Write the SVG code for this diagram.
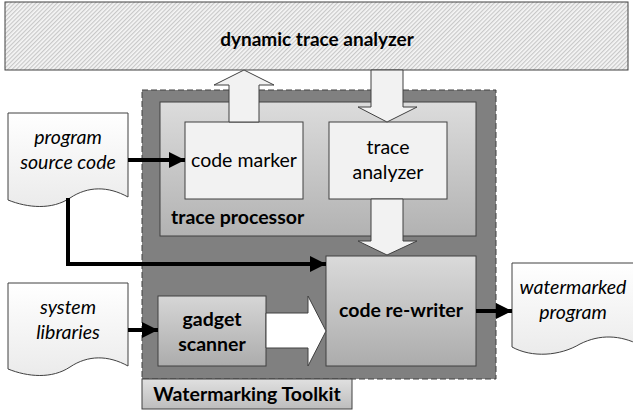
<svg xmlns="http://www.w3.org/2000/svg" width="633" height="410" viewBox="0 0 633 410">
<style>
text{font-family:Lato,"Open Sans","Liberation Sans",sans-serif;fill:#000;text-anchor:middle;font-size:19.5px}
.b{font-weight:bold}
.i{font-style:italic}
.box{stroke:#404040;stroke-width:1}
.blk{fill:#f2f2f2;stroke:#404040;stroke-width:1}
.con{fill:none;stroke:#000;stroke-width:4}
</style>
<defs>
<pattern id="hatch" width="3" height="3" patternUnits="userSpaceOnUse" patternTransform="rotate(45)">
<rect width="3" height="3" fill="#f6f6f6"/>
<rect width="1.2" height="3" fill="#c8c8c8"/>
</pattern>
<linearGradient id="gTP" x1="0" y1="0" x2="0" y2="1"><stop offset="0" stop-color="#dcdcdc"/><stop offset="1" stop-color="#b2b2b2"/></linearGradient>
<linearGradient id="gCR" x1="0" y1="0" x2="0" y2="1"><stop offset="0" stop-color="#dadada"/><stop offset="1" stop-color="#acacac"/></linearGradient>
<linearGradient id="gGS" x1="0" y1="0" x2="0" y2="1"><stop offset="0" stop-color="#d6d6d6"/><stop offset="1" stop-color="#acacac"/></linearGradient>
<linearGradient id="gWT" x1="0" y1="0" x2="0" y2="1"><stop offset="0" stop-color="#e0e0e0"/><stop offset="1" stop-color="#bdbdbd"/></linearGradient>
<linearGradient id="gDoc" x1="0" y1="0" x2="0" y2="1"><stop offset="0" stop-color="#ffffff"/><stop offset="1" stop-color="#ebebeb"/></linearGradient>
<marker id="ah" markerWidth="4" markerHeight="4" refX="4" refY="2" orient="auto" markerUnits="strokeWidth"><path d="M0,0 L4,2 L0,4 Z" fill="#000"/></marker>
</defs>

<g id="dynamic-trace-analyzer">
<rect x="5" y="2" width="623" height="68" fill="url(#hatch)" class="box"/>
<text x="317" y="46" class="b" style="font-size:19px">dynamic trace analyzer</text>
</g>

<g id="watermarking-toolkit">
<rect x="142" y="90" width="354" height="289" fill="#808080" stroke="#404040" stroke-width="1" stroke-dasharray="6,3"/>
<rect x="142" y="379" width="210" height="30" fill="url(#gWT)" class="box"/>
<text x="247" y="401" class="b">Watermarking Toolkit</text>
</g>

<g id="trace-processor">
<rect x="160" y="102" width="316" height="134" fill="url(#gTP)" class="box"/>
<text x="171" y="224" class="b" style="text-anchor:start">trace processor</text>
</g>

<g id="code-marker">
<rect x="185" y="122" width="118" height="77" fill="#f2f2f2" class="box"/>
<text x="244" y="167">code marker</text>
</g>

<g id="trace-analyzer">
<rect x="329" y="122" width="118" height="77" fill="#f2f2f2" class="box"/>
<text x="388" y="154">trace</text>
<text x="388" y="179">analyzer</text>
</g>

<g id="code-re-writer">
<rect x="326" y="256" width="150" height="110" fill="url(#gCR)" class="box"/>
<text x="401" y="317" class="b">code re-writer</text>
</g>

<g id="gadget-scanner">
<rect x="158" y="296" width="108" height="70" fill="url(#gGS)" class="box"/>
<text x="212" y="326" class="b">gadget</text>
<text x="212" y="351" class="b">scanner</text>
</g>

<g id="program-source-code">
<path d="M8,113 H128 V197 C108,186 88,186 70,198 C52,210 28,208 8,200 Z" fill="url(#gDoc)" class="box"/>
<text x="68" y="144" class="i">program</text>
<text x="68" y="169" class="i">source code</text>
</g>

<g id="system-libraries">
<path d="M8,283 H128 V366 C108,355 88,355 70,367 C52,379 28,377 8,369 Z" fill="url(#gDoc)" class="box"/>
<text x="68" y="314" class="i">system</text>
<text x="68" y="339" class="i">libraries</text>
</g>

<g id="watermarked-program">
<path d="M512,263 H640 V345 C620,335 600,334 580,344 C560,356 532,358 512,347 Z" fill="url(#gDoc)" class="box"/>
<text x="573" y="294" class="i">watermarked</text>
<text x="573" y="319" class="i">program</text>
</g>

<g id="connectors">
<path d="M229,122 V85 H214 L244,70 L274,85 H259 V122 Z" class="blk"/>
<path d="M371,70 V107 H358 L387,122 L417,107 H403 V70 Z" class="blk"/>
<path d="M371,199 V241 H358 L387,255 L417,241 H403 V199 Z" class="blk"/>
<path d="M266,313 H308 V296 L326,331 L308,366 V348 H266 Z" fill="#ffffff" stroke="#404040" stroke-width="1"/>
<path d="M128,160 H185" class="con" marker-end="url(#ah)"/>
<path d="M68,198 V264 H326" class="con" marker-end="url(#ah)"/>
<path d="M128,330 H158" class="con" marker-end="url(#ah)"/>
<path d="M476,311 H512" class="con" marker-end="url(#ah)"/>
</g>
</svg>
